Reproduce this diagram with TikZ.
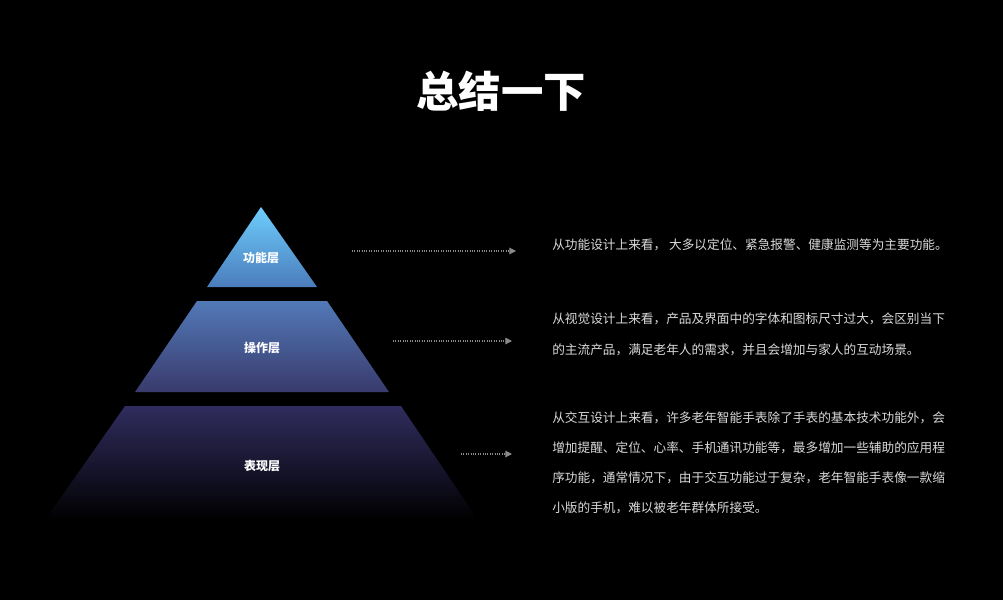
\documentclass[tikz,border=0pt]{standalone}
\usepackage{fontspec}
\newfontfamily\cjk{Noto Sans CJK SC}
\usetikzlibrary{arrows.meta}
\definecolor{topA}{HTML}{6DCEFC}
\definecolor{topB}{HTML}{4B7CBC}
\definecolor{midA}{HTML}{5279B8}
\definecolor{midB}{HTML}{393A6C}
\definecolor{lowA}{HTML}{302C5E}
\definecolor{lowB}{HTML}{000000}
\definecolor{note}{HTML}{DADADA}
\definecolor{dots}{HTML}{8A8A8A}
\tikzset{
  layer/.style={font=\cjk\bfseries\fontsize{9}{11}\selectfont,text=white},
  note/.style={font=\cjk\fontsize{9.5}{23}\selectfont,text=note,anchor=west,align=left,inner sep=0pt},
  pointer/.style={dots,densely dotted,line width=0.8pt,-{Triangle[length=5pt,width=5pt]}}
}
\begin{document}
\begin{tikzpicture}[x=0.75pt,y=-0.75pt]
\fill[black] (0,0) rectangle (1003,600);
\useasboundingbox (0,0) rectangle (1003,600);
\node[font=\cjk\bfseries\fontsize{31.8}{36}\selectfont,text=white] (title) at (501,91) {总结一下};
% pyramid
\shade[top color=topA,bottom color=topB] (261,207) -- (317,287) -- (207,287) -- cycle;
\shade[top color=midA,bottom color=midB] (197,301) -- (327,301) -- (389,392) -- (135,392) -- cycle;
\shade[top color=lowA,bottom color=lowB] (125,406) -- (401,406) -- (478,520) -- (45,520) -- cycle;
\node[layer] (func) at (261,258) {功能层};
\node[layer] (oper) at (262,348) {操作层};
\node[layer] (show) at (262,466) {表现层};
% pointers
\coordinate (p1) at (352,251); \coordinate (q1) at (516,251);
\coordinate (p2) at (393,341); \coordinate (q2) at (512,341);
\coordinate (p3) at (461,454); \coordinate (q3) at (512,454);
\draw[pointer] (p1) -- (q1);
\draw[pointer] (p2) -- (q2);
\draw[pointer] (p3) -- (q3);
% notes
\node[note] (n1) at (552,245) {从功能设计上来看， 大多以定位、紧急报警、健康监测等为主要功能。};
\node[note] (n2) at (552,334) {从视觉设计上来看，产品及界面中的字体和图标尺寸过大，会区别当下\\的主流产品，满足老年人的需求，并且会增加与家人的互动场景。};
\node[note,font=\cjk\fontsize{9.5}{22.5}\selectfont] (n3) at (552,463) {从交互设计上来看，许多老年智能手表除了手表的基本技术功能外，会\\增加提醒、定位、心率、手机通讯功能等，最多增加一些辅助的应用程\\序功能，通常情况下，由于交互功能过于复杂，老年智能手表像一款缩\\小版的手机，难以被老年群体所接受。};
\end{tikzpicture}
\end{document}
